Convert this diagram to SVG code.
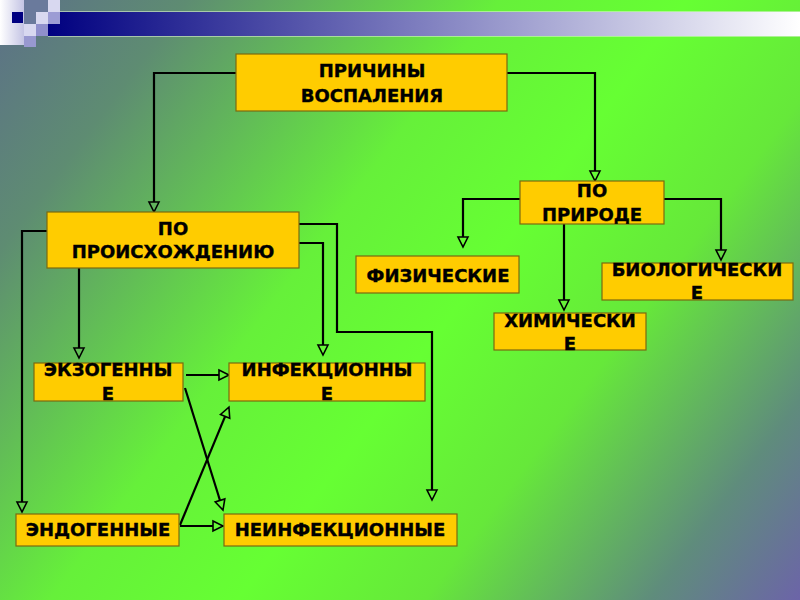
<svg xmlns="http://www.w3.org/2000/svg" width="800" height="600" viewBox="0 0 800 600">
<defs>
<linearGradient id="bg" gradientUnits="userSpaceOnUse" x1="0" y1="0" x2="800" y2="600">
<stop offset="0" stop-color="#5c7088"/>
<stop offset="0.15" stop-color="#5e8c72"/>
<stop offset="0.4" stop-color="#66f03a"/>
<stop offset="0.55" stop-color="#66ff33"/>
<stop offset="0.7" stop-color="#66e83a"/>
<stop offset="0.88" stop-color="#5f8c7c"/>
<stop offset="1" stop-color="#6c64a8"/>
</linearGradient>
<linearGradient id="bar" x1="0" y1="0" x2="1" y2="0">
<stop offset="0" stop-color="#000080"/>
<stop offset="1" stop-color="#ffffff"/>
</linearGradient>
<linearGradient id="wsq" x1="0" y1="0" x2="1" y2="0">
<stop offset="0" stop-color="#ffffff"/>
<stop offset="1" stop-color="#c4c4e4"/>
</linearGradient>
<marker id="arr" markerUnits="userSpaceOnUse" markerWidth="12" markerHeight="12" refX="0" refY="5" orient="auto" overflow="visible">
<path d="M0,0 L10,5 L0,10 Z" fill="none" stroke="#000" stroke-width="1.6" stroke-linejoin="miter"/>
</marker>
</defs>
<style>
.box{fill:#ffcc00;stroke:#7a6a10;stroke-width:1.2}
.t{font-family:"DejaVu Sans","Liberation Sans",sans-serif;font-weight:bold;font-size:18px;fill:#000;stroke:#000;stroke-width:0.35;text-anchor:middle}
.c{fill:none;stroke:#000;stroke-width:2.2;marker-end:url(#arr)}
</style>
<rect width="800" height="600" fill="url(#bg)"/>
<g id="decor">
<rect x="48" y="12" width="752" height="24" fill="url(#bar)"/>
<line x1="48" y1="11.5" x2="800" y2="11.5" stroke="#d8f0d0" stroke-opacity="0.6"/>
<line x1="48" y1="36.5" x2="800" y2="36.5" stroke="#d8f0d0" stroke-opacity="0.6"/>
<rect x="0" y="0" width="24" height="45" fill="url(#wsq)"/>
<rect x="12" y="12" width="11" height="11" fill="#000080"/>
<rect x="24" y="0" width="24" height="24" fill="#6a7a9c"/>
<rect x="48" y="0" width="12" height="12" fill="#d8d8f0"/>
<rect x="36" y="12" width="12" height="12" fill="#d8d8f0"/>
<rect x="48" y="12" width="12" height="12" fill="#9c9cd4"/>
<rect x="24" y="24" width="12" height="12" fill="#d8d8f0"/>
<rect x="36" y="24" width="12" height="12" fill="#9090cc"/>
<rect x="24" y="36" width="12" height="11" fill="#9898d0"/>
</g>
<g id="connectors">
<path class="c" d="M236,73 H154 V202"/>
<path class="c" d="M507,73 H595 V171"/>
<path class="c" d="M520,199 H463 V237"/>
<path class="c" d="M664,199 H721 V250"/>
<path class="c" d="M564,224 V300"/>
<path class="c" d="M47,231 H22 V502"/>
<path class="c" d="M79,268 V348"/>
<path class="c" d="M299,243 H323 V345"/>
<path class="c" d="M299,224 H337 V332 H432 V490"/>
<path class="c" d="M186,375 H219"/>
<path class="c" d="M185,388 L220,500.5"/>
<path class="c" d="M180,525 L225.1,416.4"/>
<path class="c" d="M180,526 H213"/>
</g>
<g id="n1"><rect class="box" x="236" y="54" width="271" height="57"/><text class="t" x="372" y="77">ПРИЧИНЫ</text><text class="t" x="372" y="102">ВОСПАЛЕНИЯ</text></g>
<g id="n2"><rect class="box" x="47" y="212" width="252" height="56"/><text class="t" x="173" y="235">ПО</text><text class="t" x="173" y="258">ПРОИСХОЖДЕНИЮ</text></g>
<g id="n3"><rect class="box" x="520" y="181" width="144" height="43"/><text class="t" x="592" y="197">ПО</text><text class="t" x="592" y="221">ПРИРОДЕ</text></g>
<g id="n4"><rect class="box" x="356" y="256" width="163" height="37"/><text class="t" x="438" y="282">ФИЗИЧЕСКИЕ</text></g>
<g id="n5"><rect class="box" x="602" y="263" width="191" height="37"/><text class="t" x="697" y="276">БИОЛОГИЧЕСКИ</text><text class="t" x="697" y="299">Е</text></g>
<g id="n6"><rect class="box" x="494" y="313" width="152" height="37"/><text class="t" x="570" y="327">ХИМИЧЕСКИ</text><text class="t" x="570" y="350">Е</text></g>
<g id="n7"><rect class="box" x="34" y="363" width="149" height="38"/><text class="t" x="108" y="376">ЭКЗОГЕННЫ</text><text class="t" x="108" y="400">Е</text></g>
<g id="n8"><rect class="box" x="229" y="363" width="196" height="38"/><text class="t" x="327" y="376">ИНФЕКЦИОННЫ</text><text class="t" x="327" y="400">Е</text></g>
<g id="n9"><rect class="box" x="16" y="514" width="163" height="32"/><text class="t" x="98" y="536">ЭНДОГЕННЫЕ</text></g>
<g id="n10"><rect class="box" x="224" y="514" width="233" height="32"/><text class="t" x="340" y="536">НЕИНФЕКЦИОННЫЕ</text></g>
</svg>
